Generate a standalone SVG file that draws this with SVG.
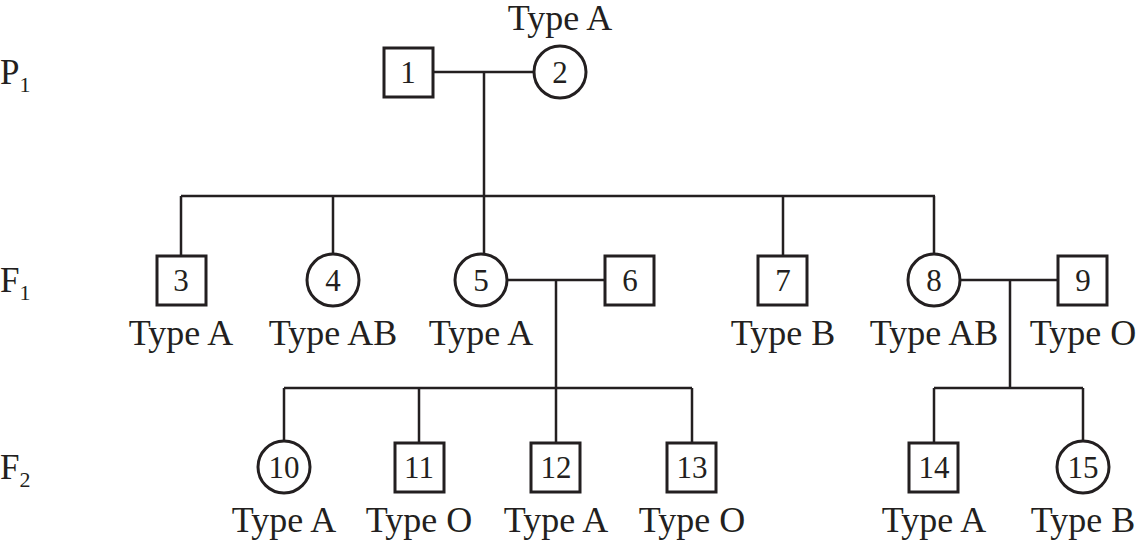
<svg xmlns="http://www.w3.org/2000/svg" width="1139" height="541" viewBox="0 0 1139 541">
<style>
.s{fill:#fff;stroke:#231f20;stroke-width:3}
.l{stroke:#231f20;stroke-width:2.5;fill:none}
text{font-family:"Liberation Serif","Times New Roman",serif;fill:#231f20}
.t{font-size:36px;text-anchor:middle}
.n{font-size:31px;text-anchor:middle}
.g{font-size:35px}
</style>
<rect width="1139" height="541" fill="#fff"/>
<g id="gen-labels">
<text class="g" x="0" y="84">P<tspan font-size="22" dy="8">1</tspan></text>
<text class="g" x="0" y="292">F<tspan font-size="22" dy="8">1</tspan></text>
<text class="g" x="0" y="479">F<tspan font-size="22" dy="8">2</tspan></text>
</g>
<g id="connectors" class="l">
<path d="M433 72H534M484 72V196M181 196H935M181 196V256M333 196V254M484 196V254M783 196V256M934 196V254"/>
<path d="M507 280H605M556 280V388M284 388H692M284 388V441M419 388V443M556 388V443M692 388V443"/>
<path d="M960 280H1058M1010 280V388M934 388H1083M934 388V443M1083 388V441"/>
</g>
<g id="n1"><rect class="s" x="384" y="48" width="49" height="49"/><text class="n" x="408" y="83">1</text></g>
<g id="n2"><circle class="s" cx="560" cy="72" r="26"/><text class="n" x="560" y="83">2</text><text class="t" x="560" y="30">Type A</text></g>
<g id="n3"><rect class="s" x="157" y="256" width="49" height="49"/><text class="n" x="181" y="291">3</text><text class="t" x="181" y="345">Type A</text></g>
<g id="n4"><circle class="s" cx="333" cy="280" r="26"/><text class="n" x="333" y="291">4</text><text class="t" x="333" y="345">Type AB</text></g>
<g id="n5"><circle class="s" cx="481" cy="280" r="26"/><text class="n" x="481" y="291">5</text><text class="t" x="481" y="345">Type A</text></g>
<g id="n6"><rect class="s" x="605" y="256" width="49" height="49"/><text class="n" x="630" y="291">6</text></g>
<g id="n7"><rect class="s" x="758" y="256" width="49" height="49"/><text class="n" x="783" y="291">7</text><text class="t" x="783" y="345">Type B</text></g>
<g id="n8"><circle class="s" cx="934" cy="280" r="26"/><text class="n" x="934" y="291">8</text><text class="t" x="934" y="345">Type AB</text></g>
<g id="n9"><rect class="s" x="1058" y="256" width="49" height="49"/><text class="n" x="1083" y="291">9</text><text class="t" x="1083" y="345">Type O</text></g>
<g id="n10"><circle class="s" cx="284" cy="467" r="26"/><text class="n" x="284" y="478">10</text><text class="t" x="284" y="532">Type A</text></g>
<g id="n11"><rect class="s" x="395" y="443" width="49" height="49"/><text class="n" x="419" y="478">11</text><text class="t" x="419" y="532">Type O</text></g>
<g id="n12"><rect class="s" x="531" y="443" width="49" height="49"/><text class="n" x="556" y="478">12</text><text class="t" x="556" y="532">Type A</text></g>
<g id="n13"><rect class="s" x="667" y="443" width="49" height="49"/><text class="n" x="692" y="478">13</text><text class="t" x="692" y="532">Type O</text></g>
<g id="n14"><rect class="s" x="909" y="443" width="49" height="49"/><text class="n" x="934" y="478">14</text><text class="t" x="934" y="532">Type A</text></g>
<g id="n15"><circle class="s" cx="1083" cy="467" r="26"/><text class="n" x="1083" y="478">15</text><text class="t" x="1083" y="532">Type B</text></g>
</svg>
